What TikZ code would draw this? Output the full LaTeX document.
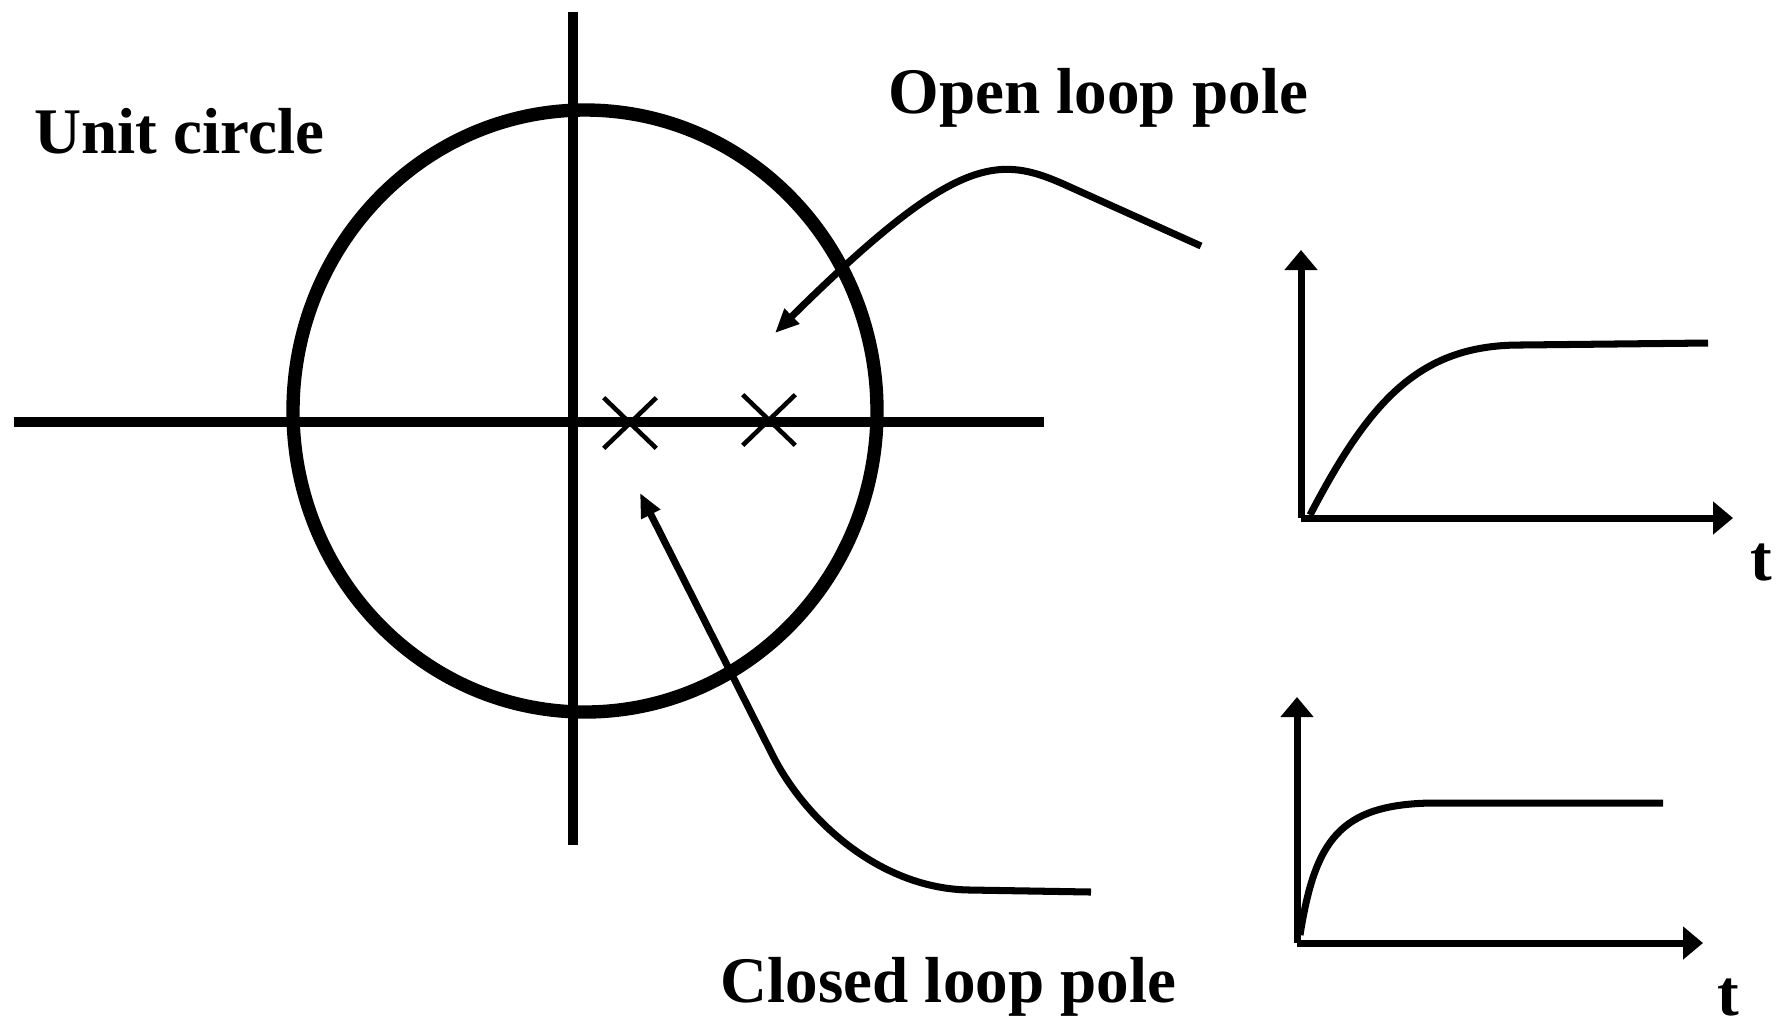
\documentclass[tikz,border=0pt]{standalone}
\usepackage{fontspec}
\setmainfont{Liberation Serif}
\usetikzlibrary{arrows.meta,shapes.misc}

\begin{document}
\begin{tikzpicture}[x=0.01cm,y=-0.01cm,
  lbl/.style={font=\fontsize{18.5}{20}\selectfont\bfseries,inner sep=0pt},
  axis/.style={line width=3.1pt},
  pole/.style={draw,cross out,line width=1.3pt,minimum width=0.48cm,minimum height=0.46cm,inner sep=0pt},
  pointer/.style={line width=2pt,-{Triangle[length=0.24cm,width=0.2cm]}},
  plotax/.style={line width=2pt,-{Triangle[length=0.2cm,width=0.32cm]}},
  resp/.style={line width=2pt}]
  \useasboundingbox (0,0) rectangle (1779,1029);
  % z-plane with unit circle
  \coordinate (reL) at (14,422);
  \coordinate (reR) at (1044,422);
  \coordinate (imT) at (573,12);
  \coordinate (imB) at (573,845);
  \draw[axis] (reL) -- (reR);
  \draw[axis] (imT) -- (imB);
  \draw[line width=3.8pt] (585,411) ellipse [x radius=292, y radius=301];
  \node[pole] (clPole) at (630,423) {};
  \node[pole] (olPole) at (769,420) {};
  \node[lbl,anchor=base west] (unitLbl) at (34,153) {Unit circle};
  \node[lbl,anchor=base west] (olLbl) at (888,113) {Open loop pole};
  \node[lbl,anchor=base west] (clLbl) at (720,1002) {Closed loop pole};
  % pointers
  \coordinate (olTail) at (1201,246);
  \coordinate (olTip) at (775,333);
  \coordinate (clTail) at (1091,892);
  \coordinate (clTip) at (640,493);
  \draw[pointer] (olTail) -- (1070,187) .. controls (1000,155) and (960,150) .. (olTip);
  \draw[pointer] (clTail) -- (970,890) .. controls (880,889) and (805,820) .. (772,754) -- (clTip);
  % step responses
  \coordinate (oA) at (1301,518);
  \coordinate (yA) at (1301,250);
  \coordinate (tA) at (1733,518);
  \draw[plotax] (oA) -- (yA);
  \draw[plotax] (oA) -- (tA);
  \draw[resp] (1310,515) .. controls (1370,400) and (1420,345) .. (1520,345) -- (1708,343);
  \node[lbl,anchor=base] (tLblA) at (1761,580) {t};
  \coordinate (oB) at (1297,943);
  \coordinate (yB) at (1297,697);
  \coordinate (tB) at (1703,943);
  \draw[plotax] (oB) -- (yB);
  \draw[plotax] (oB) -- (tB);
  \draw[resp] (1300,935) .. controls (1315,840) and (1340,805) .. (1430,803) -- (1663,803);
  \node[lbl,anchor=base] (tLblB) at (1728,1015) {t};
\end{tikzpicture}
\end{document}
